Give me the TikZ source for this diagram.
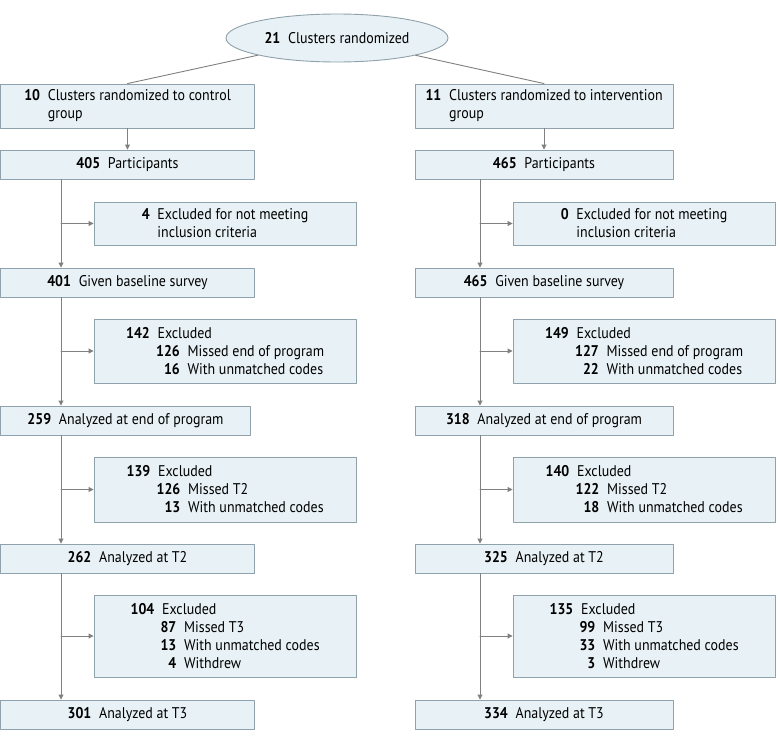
\documentclass[tikz,border=0pt]{standalone}
\usepackage{fontspec}
\setmainfont{PT Sans}[FakeStretch=0.9]
\usepackage{tikz}
\usetikzlibrary{arrows.meta,shapes.geometric}

\definecolor{boxfill}{HTML}{E8F1F5}
\definecolor{boxline}{HTML}{8FA1AA}
\definecolor{flowline}{HTML}{808080}
% bold count, right edge placed #1 from the line start
\newcommand{\at}[2]{\hspace*{#1}\llap{\textbf{#2}}\enspace}

\begin{document}
\begin{tikzpicture}[
  x=1pt, y=-1pt,
  >={Triangle[length=5pt,width=5pt]},
  line cap=round,
  line join=round,
  every node/.style={font=\fontsize{15.5}{18}\selectfont, inner sep=0pt},
  stage/.style={draw=boxline, fill=boxfill, line width=0.9pt, align=left,
    minimum width=254pt, minimum height=29pt},
  dropout/.style={stage, minimum width=262pt},
  cloud/.style={ellipse, draw=boxline, fill=boxfill, line width=0.9pt,
    minimum width=222pt, minimum height=48pt},
  flow/.style={draw=flowline, line width=0.9pt}
]
  \useasboundingbox (0,0) rectangle (780,742);

  \coordinate (lx) at (61,0);
  \coordinate (rx) at (480,0);

  \node[cloud] (rand) at (337,38) {\textbf{21}\enspace Clusters randomized};

  % Control arm
  \node[stage, minimum height=44pt] (c1) at (127.5,106)
    {\at{16pt}{10}Clusters randomized to control\\ \hspace*{16pt}\enspace group};
  \node[stage] (cp) at (127.5,164.5) {\textbf{405}\enspace Participants};
  \node[dropout, minimum height=43pt] (cx1) at (225,223.5)
    {\at{8pt}{4}Excluded for not meeting\\ \hspace*{8pt}\enspace inclusion criteria};
  \node[stage] (cb) at (127.5,282.5) {\textbf{401}\enspace Given baseline survey};
  \node[dropout, minimum height=64pt] (cx2) at (225,351)
    {\at{24pt}{142}Excluded\\ \at{54pt}{126}Missed end of program\\ \at{54pt}{16}With unmatched codes};
  \node[stage, minimum width=250pt] (ce) at (125.5,420.5) {\textbf{259}\enspace Analyzed at end of program};
  \node[dropout, minimum height=65pt] (cx3) at (225,489.5)
    {\at{24pt}{139}Excluded\\ \at{54pt}{126}Missed T2\\ \at{54pt}{13}With unmatched codes};
  \node[stage] (ct2) at (127.5,558.5) {\textbf{262}\enspace Analyzed at T2};
  \node[dropout, minimum height=82pt] (cx4) at (225,636)
    {\at{24pt}{104}Excluded\\ \at{46pt}{87}Missed T3\\ \at{46pt}{13}With unmatched codes\\ \at{46pt}{4}Withdrew};
  \node[stage] (ct3) at (127.5,714.5) {\textbf{301}\enspace Analyzed at T3};

  % Intervention arm
  \node[stage, minimum width=258pt, minimum height=44pt] (i1) at (544,106)
    {\at{16pt}{11}Clusters randomized to intervention\\ \hspace*{16pt}\enspace group};
  \node[stage, minimum width=258pt] (ip) at (544,164.5) {\textbf{465}\enspace Participants};
  \node[dropout, minimum height=43pt] (ix1) at (644,223.5)
    {\at{8pt}{0}Excluded for not meeting\\ \hspace*{8pt}\enspace inclusion criteria};
  \node[stage, minimum width=258pt] (ib) at (544,282.5) {\textbf{465}\enspace Given baseline survey};
  \node[dropout, minimum height=64pt] (ix2) at (644,351)
    {\at{24pt}{149}Excluded\\ \at{54pt}{127}Missed end of program\\ \at{54pt}{22}With unmatched codes};
  \node[stage, minimum width=258pt] (ie) at (544,420.5) {\textbf{318}\enspace Analyzed at end of program};
  \node[dropout, minimum height=65pt] (ix3) at (644,489.5)
    {\at{24pt}{140}Excluded\\ \at{54pt}{122}Missed T2\\ \at{54pt}{18}With unmatched codes};
  \node[stage, minimum width=258pt] (it2) at (544,558.5) {\textbf{325}\enspace Analyzed at T2};
  \node[dropout, minimum height=82pt] (ix4) at (644,636)
    {\at{24pt}{135}Excluded\\ \at{46pt}{99}Missed T3\\ \at{46pt}{33}With unmatched codes\\ \at{46pt}{3}Withdrew};
  \node[stage, minimum width=258pt] (it3) at (544,714.5) {\textbf{334}\enspace Analyzed at T3};

  % Split into arms
  \draw[flow] (rand) -- (c1.north);
  \draw[flow] (rand) -- (i1.north);
  \draw[flow,->] (c1.south) -- (cp.north);
  \draw[flow,->] (i1.south) -- (ip.north);

  % Main trunks
  \foreach \a/\b in {cp/cb,cb/ce,ce/ct2,ct2/ct3}
    \draw[flow,->] (\a.south -| lx) -- (\b.north -| lx);
  \foreach \a/\b in {ip/ib,ib/ie,ie/it2,it2/it3}
    \draw[flow,->] (\a.south -| rx) -- (\b.north -| rx);

  % Side exits
  \foreach \x in {cx1,cx2,cx3,cx4}
    \draw[flow,->] (\x.west -| lx) -- (\x.west);
  \foreach \x in {ix1,ix2,ix3,ix4}
    \draw[flow,->] (\x.west -| rx) -- (\x.west);
\end{tikzpicture}
\end{document}
